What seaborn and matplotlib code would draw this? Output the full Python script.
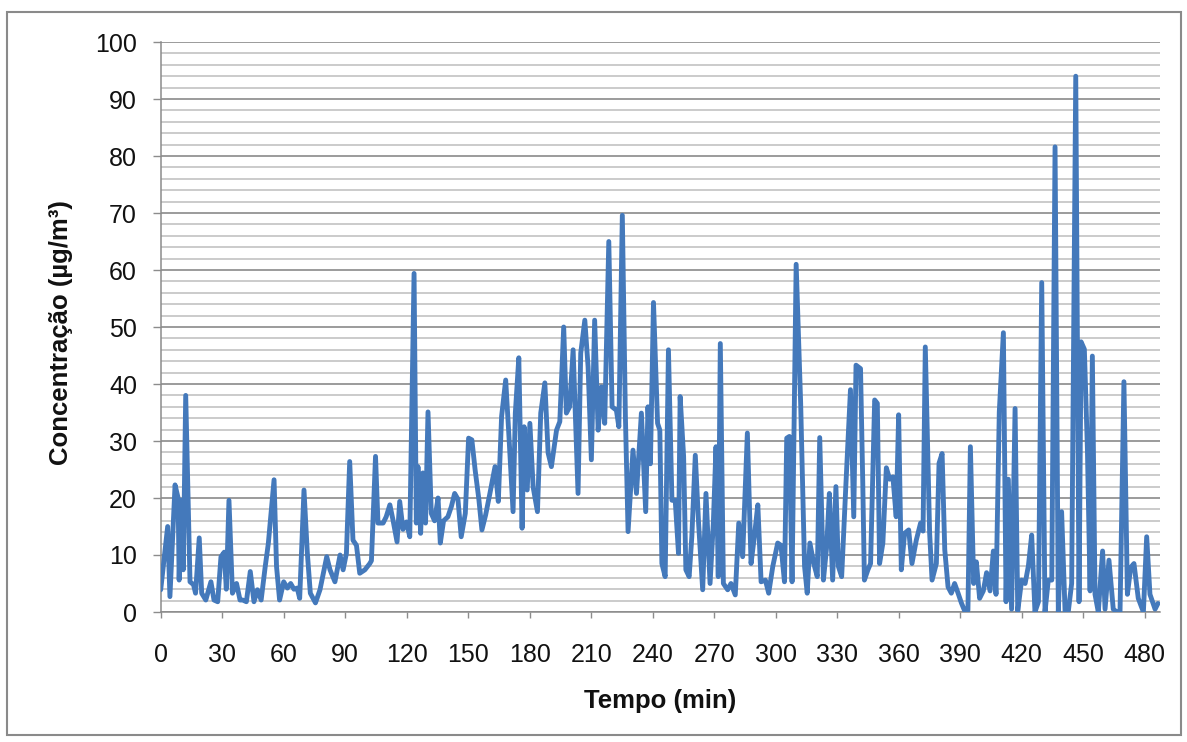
import matplotlib
matplotlib.use("Agg")
import matplotlib.pyplot as plt
import seaborn as sns
import pandas as pd
from matplotlib.patches import Rectangle
from matplotlib.ticker import FixedLocator, MultipleLocator

# ---- data (time in min, concentration in µg/m³) ----
tempo = [
    0, 3.4, 4.5, 7, 8.5, 9, 10, 11, 12.2, 14.3, 16, 17, 18.8, 20, 22, 24.5, 26, 27.8,
    29.4, 31, 32, 33.3, 35, 37, 38.7, 40, 41.8, 43.7, 45.5, 47.2, 49, 51, 52.5, 55.3,
    56.5, 58, 60, 61.8, 63.4, 65, 66.6, 67.8, 69.9, 71.5, 73, 75.5,
    77.7, 81, 82.6, 85, 87.5, 89, 90.6, 92.2, 93.8, 95.5, 97.1, 99.6, 102, 102.8, 104.8,
    106, 108.5, 110, 111.8, 113.4, 115.3, 116.6, 118.2, 119.9, 121.5, 123.6, 124.7,
    125.5, 126.8, 127.9, 129.2, 130.4, 132, 133.6, 135.3, 136.4, 138, 140.1, 141.8,
    143.4, 145, 146.6, 148.6, 150.2, 151.8, 153.4, 155.2, 156.7, 158.5,
    160.6, 163.1, 164.7, 166.3, 168.3, 169.8, 171.9, 173, 174.7, 176.3, 177.3, 178.8,
    180.1, 181.7, 183.8, 185.4, 187.4, 189, 190.6, 193.1, 194.7, 196.6, 197.9, 199.5,
    201.2, 203.6, 204.9, 206.9, 208.5, 210.1, 211.7, 213.4, 215, 216.6, 218.6, 220.2,
    222.3, 223.5, 225.2, 226.7, 228, 230.4, 232.1, 234.5, 236.6, 237.7, 238.9, 240.4,
    242.4, 243.5, 244.5, 246.1, 247.7, 249.4, 251, 252.6, 253.4, 255.1, 256.2, 257.8,
    259.1, 260.8, 262.4, 264.4, 266, 268, 269.6, 270.9, 272, 273, 274.5, 276.6, 278.2,
    280.3, 282, 283.9, 286.2, 288, 289.6, 291.3, 292.9, 295, 296.6, 298.6, 301, 302.6,
    304.3, 305.4, 306.7, 308, 310, 312.2, 314.1, 315.4, 316.7, 318.6, 320.3, 321.5,
    323.3, 324.9, 326.2, 327.8, 329.4, 330.6, 332.2, 334.3, 336.5, 338.1, 339.2, 341.4,
    342.5, 343.3, 345, 346.3, 348.3, 349.6, 350.7, 352.3, 354, 355.6, 357.2, 358.8, 360,
    361.3, 362.9, 364.9, 366.5, 368.6, 370.7, 371.9, 373, 375.1, 376.3, 378.4, 379.7,
    381.2, 382.5, 384.1, 385.7, 387.3, 389, 390.6, 392.2, 393.8, 395, 396.6, 397.9, 399.5,
    401.3, 402.9, 404.6, 406.2, 407.5, 409.1, 411.1, 412.4, 413.5, 415.1, 416.8, 418.1,
    420, 421.7, 423.3, 424.9, 426.5, 428.2, 429.8, 431.4, 433, 434.7, 436.3, 437.9, 439.5,
    441.2, 442.8, 444.4, 446.4, 448, 449, 450.6, 452.1, 453.4, 454.5, 455.8, 457.4, 459.5,
    460.7, 462.6, 464.7, 466.4, 468, 469.9, 471.6, 473.2, 474.8, 476.9, 479.4, 481, 482.6,
    485.1, 486.5,
]
concentracao = [
    3.9, 15, 2.7, 22.3, 20, 5.6, 19.6, 7.4, 38, 5.3, 4.8, 3.3, 13, 3.3, 2.1, 5.3, 2.1, 1.8,
    9.7, 10.5, 4, 19.6, 3.3, 5, 2.1, 2.1, 1.8, 7.1, 1.8, 3.9, 2.1, 8, 12, 23.2,
    8, 2.1, 5.3, 4.2, 5, 4, 4.2, 2.4, 21.4, 10.5, 3.3, 1.6,
    3.9, 9.7, 7.4, 5.3, 10, 7.4, 10.3, 26.4, 12.6, 11.7, 6.8, 7.4, 8.5, 9, 27.3,
    15.6, 15.6, 16.7, 18.8, 16, 12.3, 19.4, 14.5, 15.8, 13.2, 59.4, 15.6,
    25.5, 13.8, 24.4, 15.6, 35.1, 17.3, 16, 20, 12.1, 16, 16.7, 18.5,
    20.8, 19.8, 13.2, 17.3, 30.5, 30.2, 24.9, 19.8, 14.4, 17,
    20.8, 25.5, 19.4, 34.3, 40.7, 31.4, 17.6, 34.9, 44.6, 14.7, 32.5, 21.4,
    33.1, 21.9, 17.6, 34.9, 40.2, 27.9, 25.5, 31.9, 33.4, 50, 34.9, 36,
    46, 20.8, 45.4, 51.2, 43, 26.7, 51.2, 31.9, 39.5, 33.1, 65, 36,
    35.4, 32.5, 69.6, 34.3, 14.1, 28.4, 20.8, 34.9, 17.6, 36, 26, 54.3,
    33.1, 31.9, 8.5, 6.2, 46, 19.6, 19.6, 10.3, 37.8, 27.3, 7.4, 6.2,
    13.2, 27.5, 15.6, 3.9, 20.8, 5, 15.6, 29, 6.2, 47.1, 5, 3.9, 5,
    3, 15.6, 9.7, 31.4, 8.5, 13.2, 18.8, 5.3, 5.6, 3.3, 8, 12.1, 11.7,
    5.3, 30.5, 30.8, 5.3, 61, 36.6, 8, 3.3, 12.1, 8.5, 6.2, 30.6,
    5.6, 11.5, 20.8, 5.6, 22, 8, 6.2, 22.6, 39, 16.7, 43.3, 42.7,
    22.6, 5.6, 7.4, 8.5, 37.2, 36.6, 8.5, 12.1, 25.3, 23.3, 23.7, 16.7, 34.6,
    7.4, 13.8, 14.4, 8.5, 12.6, 15.6, 14.2, 46.5, 14, 5.6, 8.5, 26.1,
    27.8, 10.9, 4.4, 3.3, 5, 3.3, 1.6, 0.2, 0.3, 29, 5, 8.8, 2.4,
    3.7, 6.9, 3.7, 10.7, 3.1, 35.1, 49, 1.8, 23.3, 0.5, 35.7, 0.2,
    5.6, 5, 8.1, 13.5, 0, 1.8, 57.8, 0, 5.6, 5.6, 81.6, 0, 17.6,
    0, 0.2, 5, 94, 1.8, 47.4, 46.1, 28.4, 3.7, 44.9, 3.1, 0, 10.7,
    0.5, 9.1, 0.5, 0, 0, 40.4, 3.1, 7.8, 8.5, 2.4, 0, 13.2, 3.1,
    0.5, 1.5,
]
x_ticks = list(range(0, 481, 30))
y_ticks = list(range(0, 101, 10))
x_title = "Tempo (min)"
y_title = "Concentração (µg/m³)"

# ---- style ----
sns.set_theme(style="white")
plt.rcParams["font.family"] = ["Liberation Sans", "DejaVu Sans"]

W, H = 1187, 742
fig = plt.figure(figsize=(W / 100, H / 100), dpi=100)
left, right, top, bottom = 160.7, 1160, 42, 612
ax = fig.add_axes([left / W, 1 - bottom / H, (right - left) / W, (bottom - top) / H])

df = pd.DataFrame({"tempo": tempo, "conc": concentracao})
sns.lineplot(data=df, x="tempo", y="conc", ax=ax, color="#4479bb",
             linewidth=3.5, sort=False, zorder=3)

ax.set_xlim(0, 487.5)
ax.set_ylim(0, 100)
ax.xaxis.set_major_locator(FixedLocator(x_ticks))
ax.yaxis.set_major_locator(FixedLocator(y_ticks))
ax.yaxis.set_minor_locator(MultipleLocator(2))

ax.grid(False)
ax.grid(which="major", axis="y", color="#8a8a8a", linewidth=1.2, zorder=1)
ax.grid(which="minor", axis="y", color="#c2c2c2", linewidth=1.2, zorder=1)
ax.set_axisbelow(True)

for s in ("top", "right"):
    ax.spines[s].set_visible(False)
for s in ("left", "bottom"):
    ax.spines[s].set_color("#8c8c8c")
    ax.spines[s].set_linewidth(1.1)

ax.tick_params(axis="y", which="major", left=True, direction="out", length=6,
               width=1, color="#8c8c8c", labelsize=18, pad=11, labelcolor="#111111")
ax.tick_params(axis="y", which="minor", left=False, length=0)
ax.tick_params(axis="x", which="major", bottom=True, direction="out", length=4,
               width=1, color="#8c8c8c", labelsize=18, pad=18, labelcolor="#111111")

ax.set_xlabel(x_title, fontsize=18.5, fontweight="bold", color="#111111")
ax.set_ylabel(y_title, fontsize=18.5, fontweight="bold", color="#111111")
ax.xaxis.set_label_coords(0.5, -0.135)
ax.yaxis.set_label_coords(-0.088, 0.49)

fig.patches.append(Rectangle((7 / W, 1 - 735 / H), (1181 - 7) / W, (735 - 12) / H,
                             transform=fig.transFigure, fill=False,
                             edgecolor="#8a8a8a", linewidth=1.5))

fig.savefig("out.png", dpi=100, facecolor="white")
